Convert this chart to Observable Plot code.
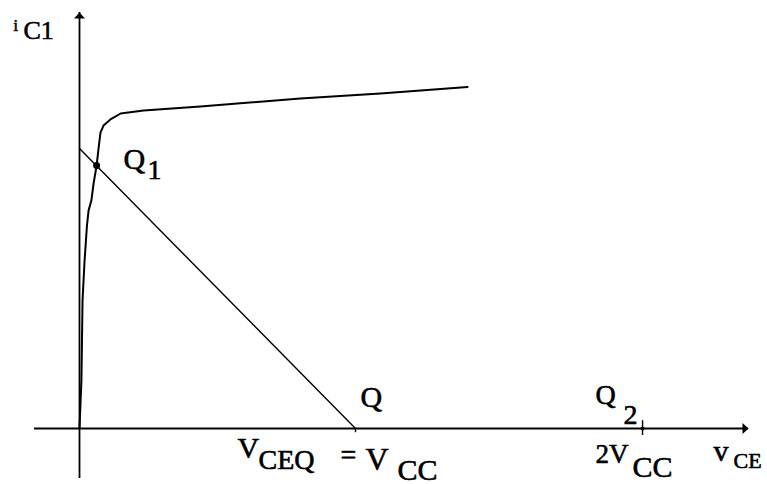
<!DOCTYPE html>
<html>
<head>
<meta charset="utf-8">
<script src="https://cdn.jsdelivr.net/npm/d3@7"></script>
<script src="https://cdn.jsdelivr.net/npm/@observablehq/plot@0.6"></script>
<style>
  html, body { margin: 0; padding: 0; background: #fff; }
  svg { display: block; }
</style>
</head>
<body>
<div id="chart"></div>
<script>
// Units: v_CE in volts with V_CC = 10, i_C1 scaled so the load line meets the i axis at 10.

// Collector characteristic i_C1(v_CE)
const curveV = [0, 0.04, 0.07, 0.11, 0.18, 0.27, 0.33, 0.43, 0.51, 0.62, 0.69, 0.76, 0.87, 1.12, 1.49, 2.32, 4.38, 8.0, 10.9, 14.06];
const curveI = [0, 1.0, 1.71, 4.57, 5.93, 7.25, 7.79, 8.14, 8.75, 9.39, 10.0, 10.57, 10.82, 11.04, 11.25, 11.36, 11.5, 11.79, 11.96, 12.2];

// DC load line from (0, I_sat) to (V_CC, 0)
const loadV = [0, 10];
const loadI = [10, 0];

// Operating points
const pointNames = ["Q1", "Q", "Q2"];
const pointV = [0.62, 10, 20.4];
const pointI = [9.39, 0, 0];

// Axis extents
const axisV = [-1.63, 24.24];
const axisI = [-1.79, 14.86];

// Axis titles and tick labels (main text, subscript)
const yTitle = ["i", "C1"];
const xTitle = ["v", "CE"];
const vccLabel = ["V", "CEQ", "=", "V", "CC"];
const twoVccLabel = ["2V", "CC"];

const curve = curveV.map((v, k) => ({v, i: curveI[k]}));
const load = loadV.map((v, k) => ({v, i: loadI[k]}));
const points = pointNames.map((name, k) => ({name, v: pointV[k], i: pointI[k]}));
const Q1 = points[0], Q = points[1], Q2 = points[2];

// Flat, filled arrowhead pointing up, tip at the origin
const arrowHead = {
  draw(ctx) {
    ctx.moveTo(0, 0);
    ctx.lineTo(5.5, 6);
    ctx.lineTo(-5.5, 6);
    ctx.closePath();
  }
};

const font = "Liberation Serif";
const txt = (datum, text, dx, dy, size) =>
  Plot.text([datum], {
    x: "v", y: "i", text: () => text, dx, dy,
    textAnchor: "start", lineAnchor: "bottom",
    fontFamily: font, fontSize: size, fontWeight: "normal",
    fill: "black", stroke: "black", strokeWidth: 0.6
  });

const yTop = {v: 0, i: axisI[1]};
const xEnd = {v: axisV[1], i: 0};

const chart = Plot.plot({
  width: 767,
  height: 484,
  margin: 0,
  style: {fontFamily: font},
  x: {domain: [0, 10], range: [79, 355], axis: null},
  y: {domain: [0, 10], range: [428, 148], axis: null},
  marks: [
    // axes
    Plot.ruleY([0], {x1: axisV[0], x2: axisV[1], stroke: "black", strokeWidth: 1.8}),
    Plot.ruleX([0], {y1: axisI[0], y2: axisI[1], stroke: "black", strokeWidth: 1.8}),
    Plot.dot([yTop], {x: "v", y: "i", symbol: arrowHead, fill: "black", stroke: "none"}),
    Plot.dot([xEnd], {x: "v", y: "i", symbol: arrowHead, rotate: 90, fill: "black", stroke: "none"}),
    // load line and characteristic
    Plot.line(load, {x: "v", y: "i", stroke: "black", strokeWidth: 1.4}),
    Plot.line(curve, {x: "v", y: "i", stroke: "black", strokeWidth: 2, curve: "linear"}),
    // operating point markers
    Plot.dot([Q1], {x: "v", y: "i", r: 3.5, fill: "black", stroke: "none"}),
    Plot.ruleX([Q], {x: "v", y1: 0, y2: -0.15, stroke: "black", strokeWidth: 1.4}),
    Plot.ruleX([Q2], {x: "v", y1: 0.28, y2: -0.25, stroke: "black", strokeWidth: 1.4}),
    Plot.dot([Q2], {x: "v", y: "i", r: 2, fill: "black", stroke: "none"}),
    // point names
    txt(Q1, "Q", 27, 3, 30),
    txt(Q1, "1", 51, 13, 28),
    txt(Q, "Q", 5, -22, 30),
    txt(Q2, "Q", -47, -25, 28),
    txt(Q2, "2", -19, -5, 28),
    // tick labels
    txt(Q, vccLabel[0], -118, 29, 30),
    txt(Q, vccLabel[1], -97, 40, 28),
    txt(Q, vccLabel[2], -15, 35, 28),
    txt(Q, vccLabel[3], 10, 41, 32),
    txt(Q, vccLabel[4], 42, 51, 30),
    txt(Q2, twoVccLabel[0], -47, 34, 27),
    txt(Q2, twoVccLabel[1], -10, 48, 30),
    // axis titles
    txt(xEnd, xTitle[0], -35, 32, 30),
    txt(xEnd, xTitle[1], -15, 39, 22),
    txt(yTop, yTitle[0], -66, 19, 16),
    txt(yTop, yTitle[1], -56, 27, 26)
  ]
});

document.getElementById("chart").append(chart);
</script>
</body>
</html>
